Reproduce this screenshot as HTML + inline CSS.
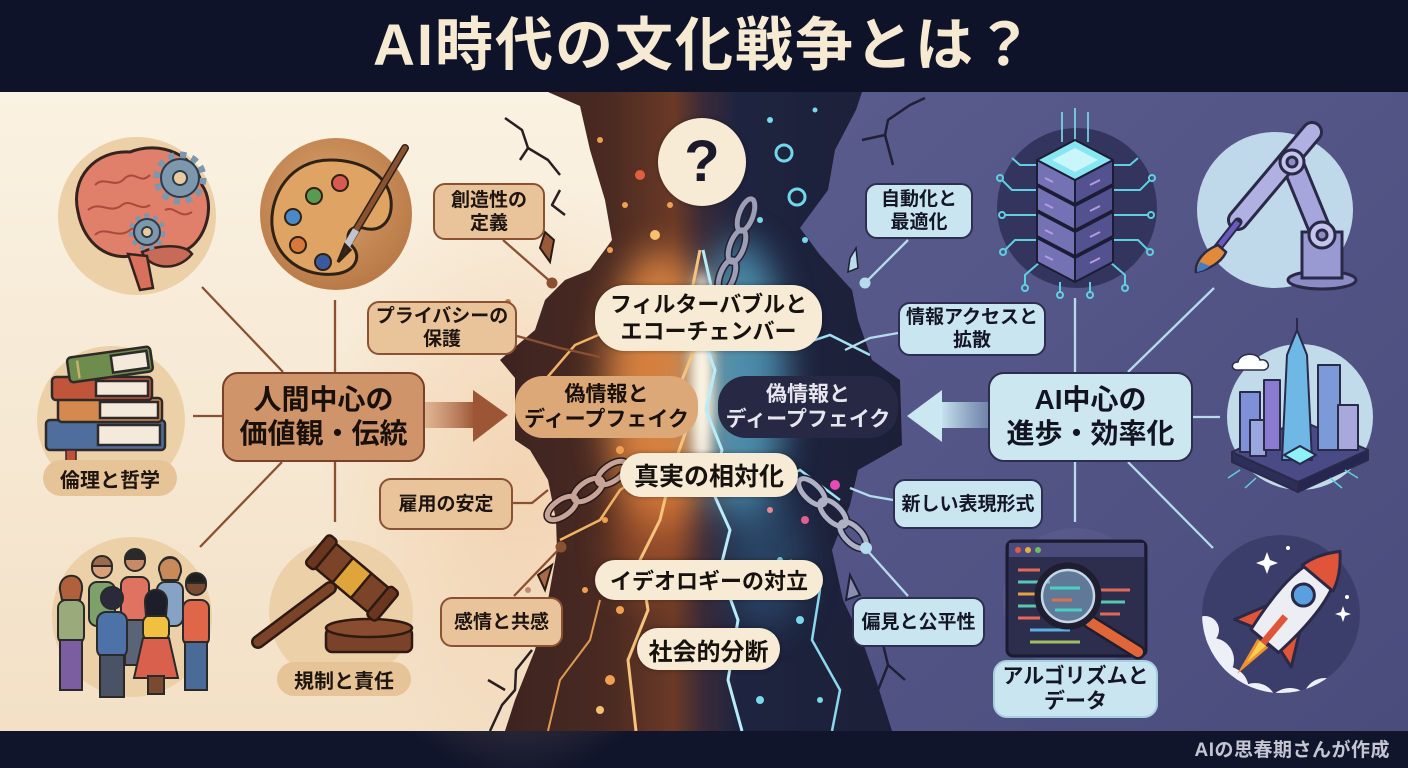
<!DOCTYPE html>
<html><head><meta charset="utf-8">
<style>
*{margin:0;padding:0;box-sizing:border-box}
body{width:1408px;height:768px;overflow:hidden;background:#0f1328;font-family:"Liberation Sans","Noto Sans CJK JP",sans-serif;font-weight:bold}
#wrap{position:relative;width:1408px;height:768px;overflow:hidden}
svg{position:absolute;left:0;top:0}
.b{position:absolute;display:flex;align-items:center;justify-content:center;text-align:center;font-weight:bold;white-space:nowrap}
.lb{background:#e9c39a;border:2px solid #8a5232;border-radius:12px;color:#1e1410;font-size:19px;line-height:23px}
.rb{background:#c9e6f0;border:2px solid #2d2f50;border-radius:12px;color:#141626;font-size:19px;line-height:23px}
.cp{background:#f7ebd5;border-radius:24px;color:#17120e;box-shadow:0 0 5px rgba(0,0,0,.35)}
.tl{background:#e6c497;border-radius:18px;color:#1e1410;font-size:20px}
#title{position:absolute;left:0;top:0;width:1408px;height:92px;line-height:92px;text-align:center;font-size:58px;color:#f6ead3;letter-spacing:2px}
#foot{position:absolute;right:18px;top:738px;font-size:19px;line-height:26px;color:#c4c5d2;letter-spacing:0.5px}
</style></head>
<body><div id="wrap">
<svg width="1408" height="768" viewBox="0 0 1408 768" xmlns="http://www.w3.org/2000/svg">
<defs>
<linearGradient id="cream" x1="0" y1="0" x2="0" y2="1"><stop offset="0" stop-color="#faf2e2"/><stop offset="1" stop-color="#f3e0c6"/></linearGradient>
<linearGradient id="purp" x1="0" y1="0" x2="1" y2="1"><stop offset="0" stop-color="#5b5d8f"/><stop offset="1" stop-color="#4a4c7c"/></linearGradient>
<radialGradient id="warm" cx="0.5" cy="0.5" r="0.5"><stop offset="0" stop-color="#f0c49a" stop-opacity="0.55"/><stop offset="1" stop-color="#f0c49a" stop-opacity="0"/></radialGradient>
<linearGradient id="chasm" gradientUnits="userSpaceOnUse" x1="480" y1="0" x2="910" y2="0">
<stop offset="0" stop-color="#3a2220"/><stop offset="0.3" stop-color="#4a2a22"/><stop offset="0.45" stop-color="#6a3a26"/><stop offset="0.52" stop-color="#3a2a38"/><stop offset="0.6" stop-color="#1e2440"/><stop offset="1" stop-color="#1c1f36"/></linearGradient>
<filter id="bl20" x="-50%" y="-50%" width="200%" height="200%"><feGaussianBlur stdDeviation="18"/></filter>
<filter id="bl8" x="-50%" y="-50%" width="200%" height="200%"><feGaussianBlur stdDeviation="6"/></filter>
<clipPath id="cc"><polygon points="548,92 580,106 590,150 605,200 612,240 590,270 565,280 545,300 535,330 500,360 515,378 515,440 530,450 548,480 556,520 557,550 548,600 535,650 515,700 505,731 892,731 876,680 862,640 843,600 832,550 850,505 858,470 902,445 900,380 872,360 858,320 852,290 820,255 800,228 828,190 835,150 856,110 862,92"/></clipPath>
<clipPath id="rk"><circle cx="1281" cy="614" r="79"/></clipPath>
<linearGradient id="larr" x1="0" y1="0" x2="1" y2="0"><stop offset="0" stop-color="#c98a62" stop-opacity="0.5"/><stop offset="1" stop-color="#9c5636"/></linearGradient>
<linearGradient id="rarr" x1="0" y1="0" x2="1" y2="0"><stop offset="0" stop-color="#cbe7f1"/><stop offset="1" stop-color="#9cc2d8" stop-opacity="0.4"/></linearGradient>
<radialGradient id="pal" cx="0.45" cy="0.4" r="0.6"><stop offset="0" stop-color="#dba36c"/><stop offset="1" stop-color="#b97a48"/></radialGradient>
</defs>

<rect x="0" y="0" width="1408" height="92" fill="#0f1329"/>
<rect x="0" y="731" width="1408" height="37" fill="#11152b"/>
<rect x="0" y="92" width="710" height="639" fill="url(#cream)"/>
<ellipse cx="520" cy="480" rx="200" ry="300" fill="url(#warm)"/>
<rect x="700" y="92" width="708" height="639" fill="url(#purp)"/>

<polygon points="548,92 580,106 590,150 605,200 612,240 590,270 565,280 545,300 535,330 500,360 515,378 515,440 530,450 548,480 556,520 557,550 548,600 535,650 515,700 505,731 892,731 876,680 862,640 843,600 832,550 850,505 858,470 902,445 900,380 872,360 858,320 852,290 820,255 800,228 828,190 835,150 856,110 862,92" fill="url(#chasm)"/>
<g clip-path="url(#cc)">
<ellipse cx="660" cy="390" rx="55" ry="140" fill="#e98d44" opacity="0.85" filter="url(#bl20)"/>
<ellipse cx="650" cy="540" rx="40" ry="60" fill="#c8642e" opacity="0.45" filter="url(#bl20)"/>
<ellipse cx="740" cy="380" rx="45" ry="140" fill="#5fb8d8" opacity="0.7" filter="url(#bl20)"/>
<ellipse cx="765" cy="560" rx="40" ry="70" fill="#3f80a8" opacity="0.35" filter="url(#bl20)"/>
<ellipse cx="702" cy="380" rx="11" ry="110" fill="#fff6e6" filter="url(#bl8)"/>
<polyline points="703,250 712,290 700,330 715,370 706,410 722,450 712,490 730,530 720,570 738,620 728,680 742,731" fill="none" stroke="#b8ecf8" stroke-width="3"/>
<polyline points="700,250 690,300 698,340 682,380 690,420 672,470 660,520 640,560 648,610 628,660 636,731" fill="none" stroke="#f6c47a" stroke-width="3"/>
<polyline points="760,330 800,345 830,335 870,355" fill="none" stroke="#9fe0f2" stroke-width="2.5"/>
<polyline points="740,470 780,480 800,470 840,500" fill="none" stroke="#9fe0f2" stroke-width="2.5"/>
<polyline points="790,560 820,590 812,640 840,690 832,731" fill="none" stroke="#8ad8ee" stroke-width="2.5"/>
<polyline points="640,300 610,330 575,345 545,380" fill="none" stroke="#f0b464" stroke-width="2.5"/>
<polyline points="650,470 620,490 600,520 560,540" fill="none" stroke="#f0b464" stroke-width="2.5"/>
<polyline points="600,600 590,640 560,680 548,731" fill="none" stroke="#e09a52" stroke-width="2"/>
<g fill="#f0a050">
<circle cx="600" cy="140" r="3"/><circle cx="640" cy="175" r="5" fill="#e0603a"/><circle cx="625" cy="205" r="3"/><circle cx="655" cy="235" r="5" fill="#f7c070"/><circle cx="670" cy="205" r="3"/><circle cx="610" cy="250" r="3"/><circle cx="620" cy="450" r="4"/><circle cx="605" cy="520" r="3"/><circle cx="620" cy="610" r="4"/><circle cx="610" cy="680" r="5"/><circle cx="645" cy="655" r="3"/><circle cx="585" cy="590" r="3"/><circle cx="600" cy="710" r="4" fill="#f6c070"/>
</g>
<g fill="none" stroke="#70d8ea" stroke-width="3">
<circle cx="784" cy="153" r="8"/><circle cx="797" cy="197" r="8"/>
</g>
<g fill="#7ad8ea">
<circle cx="770" cy="120" r="3"/><circle cx="815" cy="110" r="2.5"/><circle cx="760" cy="220" r="3"/><circle cx="805" cy="240" r="3"/><circle cx="780" cy="560" r="3"/><circle cx="800" cy="620" r="4"/><circle cx="770" cy="660" r="4"/><circle cx="820" cy="700" r="3"/><circle cx="760" cy="700" r="4"/>
<circle cx="835" cy="485" r="5" fill="#e64bb4"/><circle cx="805" cy="520" r="4" fill="#e06090"/><circle cx="770" cy="510" r="3" fill="#e68a90"/>
</g>
</g>

<g fill="none" stroke="#2a1e22" stroke-width="2.5" stroke-linejoin="round">
<polyline points="505,118 522,130 528,148 548,160 560,175"/>
<polyline points="528,148 520,160"/>
<polyline points="560,190 552,205 565,215"/>
<polyline points="490,731 502,705 515,690 516,670 532,650"/>
<polyline points="505,690 488,680"/>
</g>
<g fill="none" stroke="#1e2036" stroke-width="2.5" stroke-linejoin="round">
<polyline points="862,140 885,135 888,120 910,105 925,98"/>
<polyline points="885,135 893,165"/>
<polyline points="878,690 888,665 882,640 895,625"/>
<polyline points="888,665 905,680"/>
</g>
<polygon points="545,232 554,240 550,262 540,248" fill="#9a5a3a" stroke="#2a1a14" stroke-width="2"/>
<polygon points="538,575 552,565 545,590" fill="#a86a48" stroke="#2a1a14" stroke-width="2"/>
<polygon points="850,575 860,595 846,600" fill="#8a8cb0" stroke="#1e2036" stroke-width="2"/>
<polygon points="850,258 856,248 858,268 848,272" fill="#b8dcea" stroke="#1e2036" stroke-width="1.5"/>
<circle cx="508" cy="302" r="3" fill="#c07a50"/><circle cx="528" cy="590" r="3" fill="#c08a70"/>

<g fill="none" stroke-width="5">
<g stroke="#2a2030" stroke-width="8"><ellipse cx="746" cy="215" rx="7" ry="17" transform="rotate(20 746 215)"/><ellipse cx="737" cy="246" rx="7" ry="17" transform="rotate(20 737 246)"/><ellipse cx="727" cy="276" rx="7" ry="17" transform="rotate(20 727 276)"/></g>
<g stroke="#9a9eb8"><ellipse cx="746" cy="215" rx="7" ry="17" transform="rotate(20 746 215)"/><ellipse cx="737" cy="246" rx="7" ry="17" transform="rotate(20 737 246)"/><ellipse cx="727" cy="276" rx="7" ry="17" transform="rotate(20 727 276)"/></g>
<g stroke="#2a1a18" stroke-width="8"><ellipse cx="562" cy="508" rx="17" ry="8" transform="rotate(-35 562 508)"/><ellipse cx="588" cy="490" rx="17" ry="8" transform="rotate(-35 588 490)"/><ellipse cx="612" cy="473" rx="17" ry="8" transform="rotate(-35 612 473)"/></g>
<g stroke="#c8a498"><ellipse cx="562" cy="508" rx="17" ry="8" transform="rotate(-35 562 508)"/><ellipse cx="588" cy="490" rx="17" ry="8" transform="rotate(-35 588 490)"/><ellipse cx="612" cy="473" rx="17" ry="8" transform="rotate(-35 612 473)"/></g>
<g stroke="#1e2036" stroke-width="8"><ellipse cx="812" cy="492" rx="17" ry="8" transform="rotate(45 812 492)"/><ellipse cx="833" cy="513" rx="17" ry="8" transform="rotate(45 833 513)"/><ellipse cx="853" cy="535" rx="17" ry="8" transform="rotate(45 853 535)"/></g>
<g stroke="#aeb0c6"><ellipse cx="812" cy="492" rx="17" ry="8" transform="rotate(45 812 492)"/><ellipse cx="833" cy="513" rx="17" ry="8" transform="rotate(45 833 513)"/><ellipse cx="853" cy="535" rx="17" ry="8" transform="rotate(45 853 535)"/></g>
</g>

<g stroke="#8a5030" stroke-width="2.3" fill="none">
<line x1="202" y1="287" x2="283" y2="372"/>
<line x1="335" y1="300" x2="335" y2="372"/>
<line x1="193" y1="416" x2="222" y2="416"/>
<line x1="282" y1="462" x2="200" y2="547"/>
<line x1="335" y1="462" x2="335" y2="522"/>
<line x1="503" y1="240" x2="552" y2="283"/>
<polyline points="517,336 560,348 600,357"/>
<polyline points="513,503 532,503 548,490"/>
<line x1="514" y1="596" x2="561" y2="547"/>
</g>
<circle cx="552" cy="283" r="5.5" fill="#8a5030"/>
<circle cx="561" cy="547" r="5.5" fill="#8a5030"/>
<g stroke="#b5dcea" stroke-width="2.3" fill="none">
<line x1="1075" y1="298" x2="1075" y2="372"/>
<line x1="1214" y1="288" x2="1128" y2="372"/>
<line x1="1193" y1="417" x2="1220" y2="417"/>
<line x1="1128" y1="462" x2="1213" y2="548"/>
<line x1="1075" y1="462" x2="1075" y2="522"/>
<line x1="908" y1="240" x2="865" y2="283"/>
<polyline points="898,333 870,338 845,350"/>
<polyline points="893,500 870,496 850,488"/>
<line x1="908" y1="596" x2="866" y2="549"/>
</g>
<circle cx="865" cy="283" r="5.5" fill="#b5dcea"/>
<circle cx="866" cy="548" r="6" fill="#b5dcea"/>

<rect x="425" y="402" width="50" height="26" fill="url(#larr)"/>
<polygon points="473,390 508,415 473,442" fill="#9c5636"/>
<rect x="940" y="402" width="50" height="26" fill="url(#rarr)"/>
<polygon points="942,390 907,416 942,442" fill="#cbe7f1"/>

<!-- BRAIN -->
<circle cx="137" cy="216" r="79" fill="#ebd0a8"/>
<path d="M78,212 C70,178 95,150 130,152 C160,140 196,155 202,185 C216,205 206,240 186,250 C175,262 150,262 135,255 C110,262 84,245 78,212Z" fill="#e07f6a" stroke="#352320" stroke-width="3"/>
<g fill="none" stroke="#a84a3c" stroke-width="2">
<path d="M95,185 C105,175 115,190 125,178 C135,170 140,185 150,175"/>
<path d="M88,210 C100,200 110,215 122,205 C130,198 140,212 150,205"/>
<path d="M95,235 C105,225 118,240 130,230 C140,222 150,236 160,228"/>
<path d="M165,210 C175,205 180,220 192,212"/>
</g>
<path d="M142,252 C150,270 178,272 192,254 C185,244 160,244 142,252Z" fill="#c86a58" stroke="#352320" stroke-width="2.5"/>
<path d="M128,254 L140,290 L153,288 L147,256Z" fill="#d8705c" stroke="#352320" stroke-width="2.5"/>
<g transform="translate(180,178)"><circle r="22" fill="none" stroke="#7d97ad" stroke-width="9" stroke-dasharray="6 5.5"/><circle r="19" fill="#7d97ad" stroke="#2f3a48" stroke-width="2"/><circle r="7" fill="#e9cba0" stroke="#2f3a48" stroke-width="2"/></g>
<g transform="translate(147,232)"><circle r="15" fill="none" stroke="#7d97ad" stroke-width="7" stroke-dasharray="4.5 4"/><circle r="13" fill="#7d97ad" stroke="#2f3a48" stroke-width="2"/><circle r="5" fill="#e9cba0" stroke="#2f3a48" stroke-width="2"/></g>

<!-- PALETTE -->
<circle cx="336" cy="214" r="76" fill="url(#pal)"/>
<path d="M330,160 C290,160 270,195 272,225 C275,260 305,277 335,274 C356,272 362,256 352,246 C343,236 350,224 363,228 C380,233 393,222 391,200 C388,175 362,160 330,160Z" fill="#dfa464" stroke="#2e2216" stroke-width="3"/>
<circle cx="314" cy="196" r="8" fill="#5a9a50" stroke="#2e2216" stroke-width="2"/>
<circle cx="340" cy="183" r="8" fill="#d85a50" stroke="#2e2216" stroke-width="2"/>
<circle cx="293" cy="217" r="8" fill="#4a88c8" stroke="#2e2216" stroke-width="2"/>
<circle cx="298" cy="245" r="8" fill="#d8783a" stroke="#2e2216" stroke-width="2"/>
<circle cx="323" cy="262" r="8" fill="#3a5aa0" stroke="#2e2216" stroke-width="2"/>
<line x1="405" y1="148" x2="350" y2="240" stroke="#2e2216" stroke-width="8" stroke-linecap="round"/>
<line x1="405" y1="148" x2="350" y2="240" stroke="#8a5230" stroke-width="5" stroke-linecap="round"/>
<line x1="356" y1="230" x2="346" y2="247" stroke="#c0c4cc" stroke-width="7"/>
<path d="M345,245 L338,262 L350,250Z" fill="#3a2a1e" stroke="#2e2216" stroke-width="3"/>

<!-- BOOKS -->
<circle cx="111" cy="420" r="74" fill="#ebd0a8"/>
<g stroke="#2e2a2a" stroke-width="2.5">
<rect x="46" y="420" width="119" height="30" rx="4" fill="#4f6e9e"/>
<rect x="98" y="425" width="62" height="20" fill="#f3eadb"/>
<rect x="58" y="398" width="104" height="24" rx="4" fill="#d4894e"/>
<rect x="100" y="402" width="58" height="16" fill="#f3eadb"/>
<rect x="52" y="377" width="100" height="23" rx="4" fill="#c0553a"/>
<rect x="96" y="381" width="52" height="15" fill="#f3eadb"/>
<g transform="rotate(-8 110 365)"><rect x="68" y="352" width="84" height="25" rx="4" fill="#6e8c4c"/><rect x="112" y="356" width="36" height="17" fill="#f3eadb"/><line x1="78" y1="356" x2="78" y2="374" stroke="#c8b070"/></g>
</g>
<path d="M66,450 L66,470 L71,465 L76,470 L76,450Z" fill="#c0503a" stroke="#2e2a2a" stroke-width="1.5"/>

<!-- PEOPLE -->
<circle cx="132" cy="617" r="80" fill="#ebd0a8"/>
<g stroke="#2a2a2a" stroke-width="2">
<g><rect x="89" y="582" width="26" height="44" rx="8" fill="#7ea06a"/><circle cx="102" cy="568" r="10" fill="#d9a07a"/><path d="M92,566 A10,10 0 0 1 112,566Z" fill="#9a6a4a"/></g>
<g><rect x="121" y="577" width="28" height="46" rx="8" fill="#e07262"/><circle cx="135" cy="561" r="10" fill="#c98a66"/><path d="M125,559 A10,10 0 0 1 145,559Z" fill="#2a2a2a"/></g>
<g><rect x="157" y="582" width="26" height="44" rx="8" fill="#86a2c4"/><circle cx="170" cy="567" r="10" fill="#e0ae8a"/><path d="M159,570 C158,555 182,552 181,572 L178,580 L162,580Z" fill="#c98a5a"/></g>
<rect x="125" y="620" width="22" height="45" fill="#5a6476"/>
<g><rect x="58" y="600" width="26" height="44" rx="8" fill="#9aaa7a"/><rect x="60" y="640" width="22" height="50" fill="#7a5ea0"/><circle cx="71" cy="586" r="10" fill="#d9a07a"/><path d="M60,590 C58,572 84,570 82,590 L80,600 L62,600Z" fill="#b0603a"/></g>
<g><rect x="183" y="600" width="26" height="46" rx="8" fill="#e0664a"/><rect x="185" y="642" width="22" height="48" fill="#4a6a98"/><circle cx="196" cy="585" r="10" fill="#7a4a30"/><path d="M186,583 A10,10 0 0 1 206,583Z" fill="#1e1e1e"/></g>
<g><rect x="97" y="612" width="30" height="46" rx="9" fill="#4c72a8"/><rect x="100" y="655" width="24" height="42" fill="#4a5266"/><circle cx="112" cy="598" r="11" fill="#2a2a3a"/></g>
<g><rect x="143" y="615" width="26" height="26" rx="8" fill="#f0c040"/><path d="M143,638 L169,638 L178,678 L134,678Z" fill="#d8604c"/><rect x="148" y="676" width="16" height="18" fill="#7a4a30"/><circle cx="156" cy="602" r="10" fill="#7a4a30"/><path d="M145,604 C143,585 169,585 167,604 L166,616 L146,616Z" fill="#1e1e2a"/></g>
</g>

<!-- GAVEL -->
<circle cx="341" cy="612" r="72" fill="#ebd0a8"/>
<rect x="326" y="628" width="86" height="24" rx="6" fill="#7a4228" stroke="#2e1a12" stroke-width="2.5"/>
<ellipse cx="369" cy="628" rx="43" ry="9" fill="#8a4c2e" stroke="#2e1a12" stroke-width="2.5"/>
<line x1="258" y1="642" x2="330" y2="588" stroke="#2e1a12" stroke-width="14" stroke-linecap="round"/>
<line x1="258" y1="642" x2="330" y2="588" stroke="#7b4328" stroke-width="9" stroke-linecap="round"/>
<g transform="rotate(40 352 578)" stroke="#2e1a12" stroke-width="2.5">
<rect x="312" y="562" width="80" height="32" rx="7" fill="#7b4328"/>
<rect x="340" y="562" width="24" height="32" fill="#e0a53a"/>
<rect x="306" y="559" width="12" height="38" rx="4" fill="#6a3620"/>
<rect x="386" y="559" width="12" height="38" rx="4" fill="#6a3620"/>
</g>

<!-- SERVER -->
<circle cx="1077" cy="208" r="80" fill="#33355e"/>
<g stroke="#5fd0e0" stroke-width="2" fill="none">
<polyline points="1037,190 1012,190 1002,180"/><polyline points="1037,215 1005,215"/><polyline points="1037,240 1015,240 1005,250"/><polyline points="1040,262 1025,275 1025,285"/>
<polyline points="1113,190 1140,190 1150,180"/><polyline points="1113,215 1148,215"/><polyline points="1113,240 1138,240 1148,250"/><polyline points="1110,262 1125,275 1125,285"/>
<polyline points="1060,282 1060,292"/><polyline points="1090,282 1090,292"/><polyline points="1040,165 1020,165 1012,158"/><polyline points="1110,165 1130,165 1138,158"/>
<circle cx="1000" cy="178" r="3"/><circle cx="1002" cy="215" r="3"/><circle cx="1003" cy="252" r="3"/><circle cx="1025" cy="288" r="3"/><circle cx="1152" cy="178" r="3"/><circle cx="1151" cy="215" r="3"/><circle cx="1150" cy="252" r="3"/><circle cx="1125" cy="288" r="3"/><circle cx="1060" cy="295" r="3"/><circle cx="1090" cy="295" r="3"/>
</g>
<g stroke="#7fe0f0" stroke-width="2" opacity="0.8"><line x1="1062" y1="112" x2="1062" y2="142"/><line x1="1075" y1="108" x2="1075" y2="140"/><line x1="1088" y1="112" x2="1088" y2="142"/></g>
<g stroke="#1c1c34" stroke-width="2" stroke-linejoin="round">
<polygon points="1037,238 1075,258 1075,282 1037,262" fill="#7472b4"/><polygon points="1075,258 1113,238 1113,262 1075,282" fill="#53518f"/>
<polygon points="1037,212 1075,232 1075,256 1037,236" fill="#7472b4"/><polygon points="1075,232 1113,212 1113,236 1075,256" fill="#53518f"/>
<polygon points="1037,186 1075,206 1075,230 1037,210" fill="#7472b4"/><polygon points="1075,206 1113,186 1113,210 1075,230" fill="#53518f"/>
<polygon points="1037,160 1075,180 1075,204 1037,184" fill="#7472b4"/><polygon points="1075,180 1113,160 1113,184 1075,204" fill="#53518f"/>
<polygon points="1075,140 1113,160 1075,180 1037,160" fill="#86e6f2"/>
<polygon points="1075,148 1098,160 1075,172 1052,160" fill="#c8f6fb" stroke="none"/>
</g>
<g stroke="#b49ae0" stroke-width="2"><line x1="1045" y1="178" x2="1053" y2="182"/><line x1="1045" y1="204" x2="1053" y2="208"/><line x1="1045" y1="230" x2="1053" y2="234"/><line x1="1045" y1="256" x2="1053" y2="260"/><line x1="1090" y1="185" x2="1100" y2="180"/><line x1="1090" y1="211" x2="1100" y2="206"/><line x1="1090" y1="237" x2="1100" y2="232"/><line x1="1090" y1="263" x2="1100" y2="258"/></g>

<!-- ROBOT ARM -->
<circle cx="1275" cy="210" r="78" fill="#bfd8ea"/>
<g stroke="#2a2a48" stroke-width="3">
<ellipse cx="1322" cy="280" rx="34" ry="9" fill="#8c8cc4"/>
<rect x="1302" y="232" width="40" height="46" fill="#9a9ad2"/>
</g>
<line x1="1322" y1="235" x2="1292" y2="162" stroke="#2a2a48" stroke-width="24" stroke-linecap="round"/>
<line x1="1322" y1="235" x2="1292" y2="162" stroke="#a6a6dc" stroke-width="18" stroke-linecap="round"/>
<line x1="1238" y1="220" x2="1312" y2="132" stroke="#2a2a48" stroke-width="22" stroke-linecap="round"/>
<line x1="1238" y1="220" x2="1312" y2="132" stroke="#b0b0e2" stroke-width="16" stroke-linecap="round"/>
<g stroke="#2a2a48" stroke-width="3"><circle cx="1322" cy="235" r="13" fill="#c4c4ec"/><circle cx="1292" cy="162" r="12" fill="#c4c4ec"/><circle cx="1322" cy="235" r="5" fill="#8c8cc4"/><circle cx="1292" cy="162" r="5" fill="#8c8cc4"/></g>
<line x1="1238" y1="222" x2="1216" y2="250" stroke="#2a2a48" stroke-width="9" stroke-linecap="round"/>
<line x1="1238" y1="222" x2="1216" y2="250" stroke="#6a5ac0" stroke-width="5"/>
<path d="M1218,245 C1200,252 1195,265 1196,272 C1208,270 1222,262 1226,252Z" fill="#e08a3a" stroke="#2a2a48" stroke-width="2.5"/>
<path d="M1200,262 C1197,268 1197,271 1197,272 C1203,271 1208,268 1210,266Z" fill="#4a7ac0"/>

<!-- CITY -->
<circle cx="1300" cy="417" r="73" fill="#c2dbeb"/>
<path d="M1238,362 C1240,352 1258,352 1260,360 C1268,358 1272,368 1264,370 L1236,370 C1230,368 1232,362 1238,362Z" fill="#fff" stroke="#2a2a4a" stroke-width="1.5"/>
<g stroke="#2a2a4a" stroke-width="2" stroke-linejoin="round">
<polygon points="1232,452 1298,482 1298,492 1232,462" fill="#2e2e5a"/>
<polygon points="1298,482 1368,450 1368,460 1298,492" fill="#262650"/>
<polygon points="1232,452 1300,420 1368,450 1298,482" fill="#4a4a86"/>
<rect x="1240" y="392" width="20" height="60" fill="#7f8fd8"/>
<rect x="1250" y="420" width="16" height="36" fill="#9aa6de"/>
<rect x="1264" y="380" width="16" height="70" fill="#8a7ad0"/>
<polygon points="1282,460 1287,355 1297,330 1307,355 1312,460" fill="#6fb8e6"/>
<rect x="1318" y="365" width="22" height="85" fill="#7d9ad8"/>
<rect x="1338" y="405" width="20" height="45" fill="#a8a8dc"/>
<polygon points="1284,455 1300,446 1316,455 1300,464" fill="#8ff0f8"/>
</g>
<line x1="1297" y1="318" x2="1297" y2="332" stroke="#2a2a4a" stroke-width="2"/>
<g stroke="#5fd0e0" stroke-width="1.5" fill="none"><polyline points="1240,470 1228,478"/><polyline points="1256,478 1245,488"/><polyline points="1345,470 1358,478"/><polyline points="1330,478 1342,488"/></g>

<!-- ROCKET -->
<g clip-path="url(#rk)">
<circle cx="1281" cy="614" r="79" fill="#3b3d6b"/>
<g fill="#eef0f8">
<circle cx="1212" cy="660" r="22"/><circle cx="1225" cy="690" r="24"/><circle cx="1255" cy="705" r="22"/><circle cx="1290" cy="712" r="24"/><circle cx="1325" cy="700" r="22"/><circle cx="1355" cy="685" r="22"/><circle cx="1205" cy="630" r="14"/>
</g>
<path d="M1264,560 L1267,552 L1270,560 L1278,563 L1270,566 L1267,574 L1264,566 L1256,563Z" fill="#fff"/>
<path d="M1341,612 L1343,606 L1345,612 L1351,614 L1345,616 L1343,622 L1341,616 L1335,614Z" fill="#fff"/>
<circle cx="1288" cy="548" r="2" fill="#fff"/><circle cx="1347" cy="597" r="2" fill="#fff"/>
</g>
<g transform="rotate(40 1295 605)" stroke="#2a2a48" stroke-width="3" stroke-linejoin="round">
<path d="M1288,655 L1295,695 L1302,655Z" fill="#f0902f" stroke="none"/>
<path d="M1291,655 L1295,680 L1299,655Z" fill="#f6d050" stroke="none"/>
<path d="M1278,615 L1258,655 L1280,648Z" fill="#e0553a"/>
<path d="M1312,615 L1332,655 L1310,648Z" fill="#e0553a"/>
<path d="M1295,535 C1318,560 1320,600 1313,652 L1277,652 C1270,600 1272,560 1295,535Z" fill="#eceef4"/>
<path d="M1295,535 C1307,548 1313,560 1315,570 L1275,570 C1277,560 1283,548 1295,535Z" fill="#e0553a"/>
<circle cx="1295" cy="592" r="11" fill="#5aa0e0"/>
<line x1="1295" y1="620" x2="1295" y2="655" stroke="#e0553a" stroke-width="7"/>
</g>

<!-- CODE WINDOW -->
<circle cx="1075" cy="600" r="72" fill="#5c5e8e" opacity="0.6"/>
<rect x="1007" y="541" width="139" height="115" rx="6" fill="#2d2d4d" stroke="#1a1a30" stroke-width="3"/>
<rect x="1009" y="543" width="135" height="14" fill="#4a4b7a"/>
<circle cx="1018" cy="550" r="3" fill="#e05a4a"/><circle cx="1028" cy="550" r="3" fill="#e8b040"/><circle cx="1038" cy="550" r="3" fill="#6ac060"/>
<g stroke-width="3"><line x1="1018" y1="570" x2="1040" y2="570" stroke="#e06a5a"/><line x1="1018" y1="582" x2="1050" y2="582" stroke="#5ac8b0"/><line x1="1018" y1="594" x2="1035" y2="594" stroke="#e8a040"/><line x1="1018" y1="606" x2="1045" y2="606" stroke="#5ac8b0"/><line x1="1018" y1="618" x2="1040" y2="618" stroke="#e06a5a"/><line x1="1030" y1="630" x2="1070" y2="630" stroke="#5ab0e0"/><line x1="1030" y1="642" x2="1080" y2="642" stroke="#a0c060"/><line x1="1100" y1="590" x2="1130" y2="590" stroke="#e06a5a"/><line x1="1100" y1="602" x2="1125" y2="602" stroke="#5ac8b0"/><line x1="1100" y1="614" x2="1120" y2="614" stroke="#e06a5a"/></g>
<line x1="1090" y1="622" x2="1138" y2="652" stroke="#1e1e30" stroke-width="15" stroke-linecap="round"/>
<line x1="1090" y1="622" x2="1138" y2="652" stroke="#e0663a" stroke-width="10" stroke-linecap="round"/>
<circle cx="1068" cy="596" r="30" fill="#8ab8d8" fill-opacity="0.55" stroke="#1e1e30" stroke-width="7"/>
<circle cx="1068" cy="596" r="26" fill="none" stroke="#c5d7e5" stroke-width="2.5"/>
<g stroke-width="3"><line x1="1050" y1="588" x2="1080" y2="588" stroke="#4ad0c0"/><line x1="1052" y1="600" x2="1072" y2="600" stroke="#e0704a"/><line x1="1055" y1="610" x2="1082" y2="610" stroke="#4ad0c0"/></g>
</svg>

<div id="title">AI時代の文化戦争とは？</div>

<div class="b lb" style="left:433px;top:183px;width:112px;height:57px">創造性の<br>定義</div>
<div class="b lb" style="left:367px;top:301px;width:150px;height:54px">プライバシーの<br>保護</div>
<div class="b lb" style="left:379px;top:478px;width:134px;height:52px">雇用の安定</div>
<div class="b lb" style="left:440px;top:597px;width:123px;height:50px">感情と共感</div>
<div class="b" style="left:222px;top:372px;width:203px;height:90px;background:#cf946a;border:2.5px solid #7a4028;border-radius:16px;color:#1a100a;font-size:28px;line-height:34px">人間中心の<br>価値観・伝統</div>
<div class="b tl" style="left:43px;top:460px;width:134px;height:36px">倫理と哲学</div>
<div class="b tl" style="left:277px;top:662px;width:134px;height:34px">規制と責任</div>

<div class="b rb" style="left:865px;top:183px;width:108px;height:56px">自動化と<br>最適化</div>
<div class="b rb" style="left:898px;top:302px;width:148px;height:54px">情報アクセスと<br>拡散</div>
<div class="b rb" style="left:893px;top:479px;width:150px;height:50px">新しい表現形式</div>
<div class="b rb" style="left:852px;top:597px;width:133px;height:50px">偏見と公平性</div>
<div class="b" style="left:988px;top:372px;width:205px;height:90px;background:#cde7f0;border:2.5px solid #2c2e4e;border-radius:16px;color:#121424;font-size:28px;line-height:34px">AI中心の<br>進歩・効率化</div>
<div class="b" style="left:993px;top:660px;width:165px;height:58px;background:#c9e6f0;border:2px solid #a8cfe0;border-radius:14px;color:#141626;font-size:21px;line-height:25px">アルゴリズムと<br>データ</div>

<div class="b cp" style="left:658px;top:118px;width:88px;height:88px;border-radius:50%;font-size:58px;line-height:58px;color:#1a1a2a">?</div>
<div class="b cp" style="left:595px;top:285px;width:227px;height:66px;border-radius:30px;font-size:22px;line-height:27px">フィルターバブルと<br>エコーチェンバー</div>
<div class="b" style="left:515px;top:376px;width:183px;height:62px;background:#dca878;border-radius:28px;color:#1a100a;font-size:21px;line-height:25px">偽情報と<br>ディープフェイク</div>
<div class="b" style="left:718px;top:376px;width:180px;height:62px;background:#272944;border-radius:28px;color:#e6e6ee;font-size:21px;line-height:25px">偽情報と<br>ディープフェイク</div>
<div class="b cp" style="left:620px;top:453px;width:178px;height:44px;font-size:25px">真実の相対化</div>
<div class="b cp" style="left:595px;top:560px;width:228px;height:40px;font-size:22px">イデオロギーの対立</div>
<div class="b cp" style="left:637px;top:628px;width:143px;height:42px;font-size:24px">社会的分断</div>

<div id="foot">AIの思春期さんが作成</div>
</div></body></html>
